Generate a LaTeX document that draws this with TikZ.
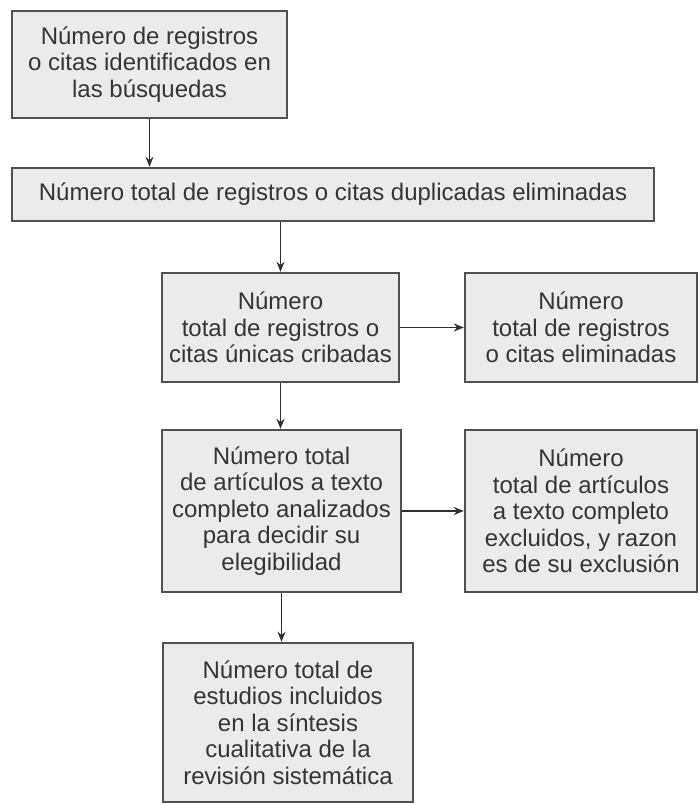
\documentclass[tikz,border=0pt]{standalone}
\usepackage{fontspec}
\setmainfont{Liberation Sans}
\usetikzlibrary{arrows.meta}
\definecolor{boxfill}{HTML}{ECEBEB}
\definecolor{boxline}{HTML}{505050}
\definecolor{txt}{HTML}{353535}
\definecolor{arr}{HTML}{303030}
\begin{document}
\begin{tikzpicture}[x=1pt,y=-1pt,
  box/.style={draw=boxline,fill=boxfill,line width=2.4pt,align=center,
    text=txt,inner sep=0pt,
    font=\fontsize{24}{26.5}\selectfont},
  conn/.style={draw=arr,line width=1.8pt,-{Stealth[length=10pt,width=8pt]}}]
\useasboundingbox (0,0) rectangle (699,805);
\fill[white] (0,0) rectangle (699,805);
\node[box,minimum width=275pt,minimum height=107pt] (b1) at (149.5,64.5)
  {Número de registros\\o citas identificados en\\las búsquedas};
\node[box,minimum width=642pt,minimum height=53pt] (b2) at (333,194.5)
  {Número total de registros o citas duplicadas eliminadas};
\node[box,minimum width=237pt,minimum height=109pt] (b3) at (280.5,327.5)
  {Número\\total de registros o\\citas únicas cribadas};
\node[box,minimum width=232pt,minimum height=109pt] (b4) at (581,327.5)
  {Número\\total de registros\\o citas eliminadas};
\node[box,minimum width=239pt,minimum height=162pt] (b5) at (281.5,511)
  {Número total\\de artículos a texto\\completo analizados\\para decidir su\\elegibilidad};
\node[box,minimum width=232pt,minimum height=162pt] (b6) at (581,511)
  {Número\\total de artículos\\a texto completo\\excluidos, y razon\\es de su exclusión};
\node[box,minimum width=250pt,minimum height=159pt] (b7) at (288,722.5)
  {Número total de\\estudios incluidos\\en la síntesis\\cualitativa de la\\revisión sistemática};
\draw[conn] (b1.south) -- (b1.south |- b2.north);
\draw[conn] (b3.north |- b2.south) -- (b3.north);
\draw[conn] (b3.east) -- (b4.west);
\draw[conn] (b3.south) -- (b3.south |- b5.north);
\draw[conn] (b5.east) -- (b6.west);
\draw[conn] (b5.south) -- (b5.south |- b7.north);
\end{tikzpicture}
\end{document}
